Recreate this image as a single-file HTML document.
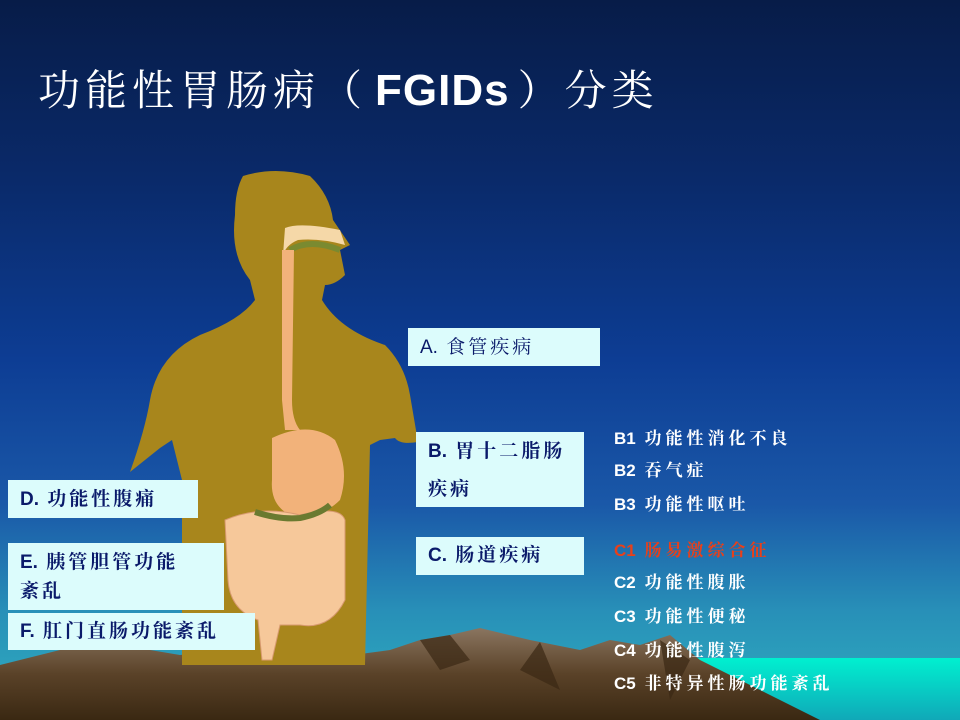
<!DOCTYPE html>
<html><head><meta charset="utf-8"><style>
body{margin:0;width:960px;height:720px;overflow:hidden;position:relative;font-family:"Liberation Sans","Noto Serif CJK SC","Noto Sans CJK SC",sans-serif;}
.bg{position:absolute;inset:0;background:linear-gradient(180deg,#071c48 0%,#0a2a6a 25%,#0d3d94 50%,#1a58a8 70%,#2890b8 85%,#30b0c0 100%);}
svg{position:absolute;left:0;top:0}
.t{position:absolute;white-space:nowrap}
.title{left:38px;top:58px;font-size:42px;letter-spacing:5px;color:#fff;font-family:"Liberation Sans","Noto Serif CJK SC","Noto Sans CJK SC",sans-serif;}
.title b{font-weight:bold;letter-spacing:1px;font-size:44px;margin:0 8px}
.box{position:absolute;background:#dcfcfc;color:#0a1a6a;font-size:19px;letter-spacing:3px;font-weight:bold;font-family:"Liberation Sans","Noto Serif CJK SC",serif;box-sizing:border-box;padding-left:12px}
.r{position:absolute;left:614px;color:#fff;font-size:17px;letter-spacing:4px;font-weight:bold;font-family:"Liberation Sans","Noto Serif CJK SC",serif;white-space:nowrap}
i{font-style:normal;letter-spacing:0}
</style></head><body>
<div class="bg"></div>
<svg width="960" height="720">
<defs>
<linearGradient id="sea" x1="0" y1="0" x2="0" y2="1"><stop offset="0" stop-color="#00f0d0"/><stop offset="1" stop-color="#10a8b8"/></linearGradient>
<linearGradient id="mt" x1="0" y1="0" x2="0" y2="1"><stop offset="0" stop-color="#8a7560"/><stop offset="0.5" stop-color="#5a4228"/><stop offset="1" stop-color="#3a2812"/></linearGradient>
</defs>
<rect x="690" y="658" width="270" height="62" fill="url(#sea)"/>
<path d="M0,665 L60,650 L120,645 L180,655 L260,645 L330,658 L390,650 L420,640 L450,635 L480,628 L530,640 L580,650 L610,640 L640,645 L670,635 L700,660 L760,690 L820,720 L0,720Z" fill="url(#mt)"/>
<path d="M420,640 L450,635 L470,660 L440,670Z M540,642 L560,690 L520,670Z M660,640 L690,660 L670,700Z" fill="#3a2814" opacity="0.7"/>
<path d="M243,176 Q275,166 310,176 Q330,195 333,220 L350,245 L340,250 L345,275 Q335,285 325,285 L322,300 Q340,330 385,345 Q405,365 410,395 L418,442 Q400,445 395,438 L380,440 L370,445 L365,665 L182,665 L182,480 L172,440 L160,448 L130,472 Q145,430 150,400 Q158,355 200,335 Q240,320 255,300 L250,280 Q230,255 235,215 Q235,190 243,176Z" fill="#a8861c"/>
<path d="M285,228 Q300,222 340,230 L345,245 Q320,238 298,240 Q286,245 283,255Z" fill="#f5d8a8"/>
<path d="M290,250 Q310,238 340,250" stroke="#7a8a30" stroke-width="6" fill="none"/>
<path d="M282,250 L294,250 L292,400 Q292,420 300,430 L285,430 L282,400Z" fill="#f2b27a"/>
<path d="M272,438 Q310,420 335,440 Q350,470 340,500 Q320,520 290,515 Q270,505 272,480Z" fill="#f2b27a"/>
<path d="M225,520 Q260,505 300,515 Q340,505 345,520 L345,600 Q330,630 300,625 L280,625 L272,660 L262,660 L258,620 Q230,610 228,580Z" fill="#f6c89a" stroke="#d89a70" stroke-width="1"/>
<path d="M255,512 Q280,520 300,518 Q320,514 330,505" stroke="#6a7a30" stroke-width="6" fill="none"/>
</svg>
<div class="t title">功能性胃肠病（<b>FGIDs</b>）分类</div>
<div class="box" style="left:408px;top:328px;width:192px;height:38px;line-height:40px;font-weight:normal"><i>A.</i> 食管疾病</div>
<div class="box" style="left:416px;top:432px;width:168px;height:75px;line-height:38px;padding-top:1px"><i>B.</i> 胃十二脂肠<br>疾病</div>
<div class="box" style="left:416px;top:537px;width:168px;height:38px;line-height:38px"><i>C.</i> 肠道疾病</div>
<div class="box" style="left:8px;top:480px;width:190px;height:38px;line-height:40px"><i>D.</i> 功能性腹痛</div>
<div class="box" style="left:8px;top:543px;width:216px;height:67px;line-height:29px;padding-top:5px"><i>E.</i> 胰管胆管功能<br>紊乱</div>
<div class="box" style="left:8px;top:613px;width:247px;height:37px;line-height:38px"><i>F.</i> 肛门直肠功能紊乱</div>
<div class="r" style="top:424px"><i>B1</i> 功能性消化不良</div>
<div class="r" style="top:456px"><i>B2</i> 吞气症</div>
<div class="r" style="top:490px"><i>B3</i> 功能性呕吐</div>
<div class="r" style="top:536px;color:#e8401a"><i>C1</i> 肠易激综合征</div>
<div class="r" style="top:568px"><i>C2</i> 功能性腹胀</div>
<div class="r" style="top:602px"><i>C3</i> 功能性便秘</div>
<div class="r" style="top:636px"><i>C4</i> 功能性腹泻</div>
<div class="r" style="top:669px"><i>C5</i> 非特异性肠功能紊乱</div>
</body></html>
